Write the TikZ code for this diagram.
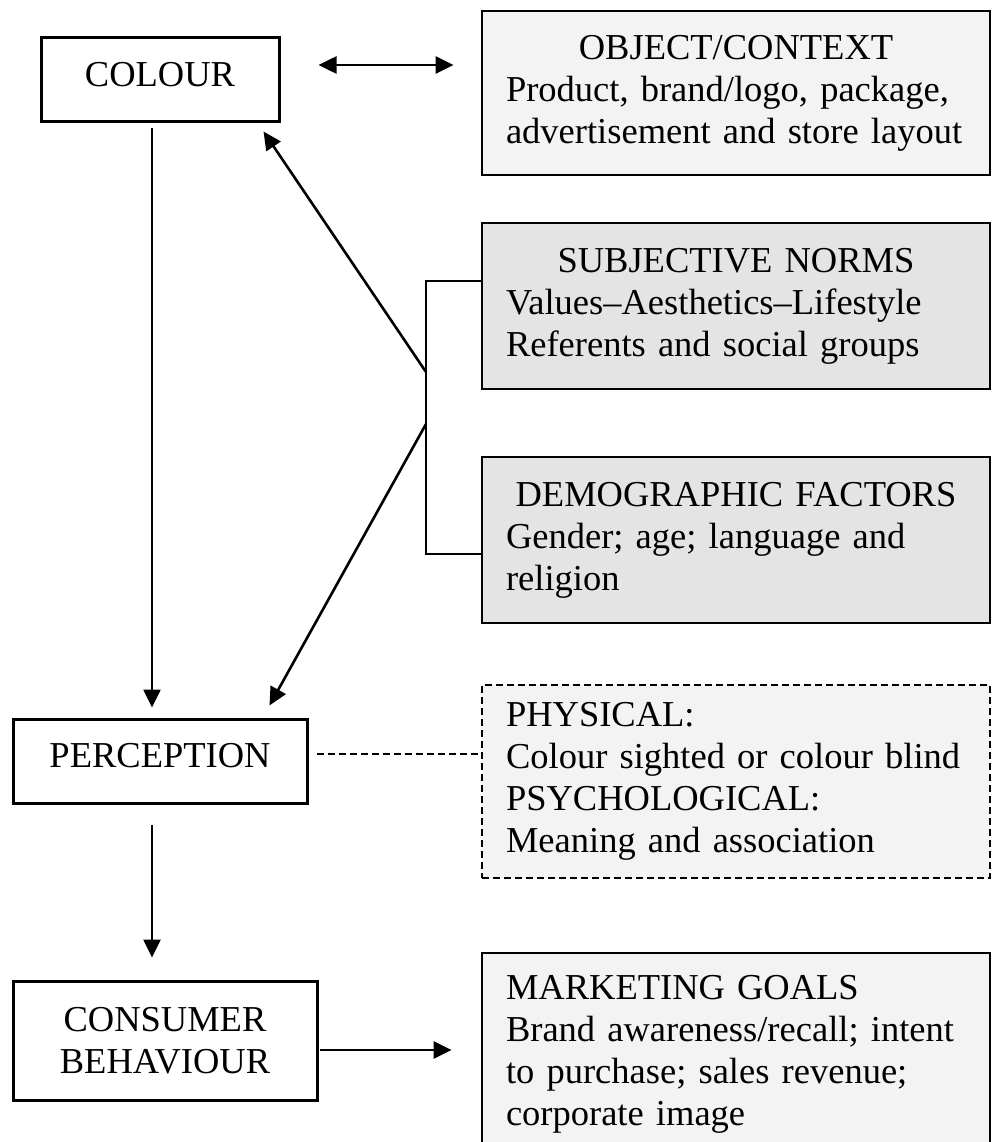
\documentclass[tikz,border=0pt]{standalone}
\usepackage{fontspec}
\setmainfont{Liberation Serif}
\usetikzlibrary{arrows.meta}
\definecolor{boxlight}{HTML}{F3F3F3}
\definecolor{boxmid}{HTML}{E4E4E4}
\newcommand{\boxhead}[1]{\makebox[460pt][c]{#1}}
\begin{document}
\begin{tikzpicture}[x=1pt,y=-1pt,
  every node/.style={font=\fontsize{36.5}{42}\selectfont},
  leftbox/.style={draw,line width=3pt,fill=white,align=center,inner sep=0pt,text depth=12pt},
  rightbox/.style={draw,line width=2.8pt,text width=460pt,align=left,inner xsep=24pt,inner ysep=0pt,minimum width=508pt},
  arr/.style={line width=2.6pt,-{Triangle[length=18pt,width=17pt]}},
  dbl/.style={line width=2.6pt,{Triangle[length=18pt,width=17pt]}-{Triangle[length=18pt,width=17pt]}},
  conn/.style={line width=2.6pt},
  dashconn/.style={line width=2.4pt,dash pattern=on 7pt off 4pt}
]
\useasboundingbox (0,0) rectangle (991,1142);
\clip (0,0) rectangle (991,1142);
\fill[white] (0,0) rectangle (991,1142);

% left column
\node[leftbox,minimum width=238pt,minimum height=84pt] (colour) at (160,80) {COLOUR};
\node[leftbox,minimum width=294pt,minimum height=84pt] (perception) at (160,761) {PERCEPTION};
\node[leftbox,minimum width=304pt,minimum height=119pt,text depth=0pt] (consumer) at (165,1040.5) {CONSUMER\\BEHAVIOUR};

% right column
\node[rightbox,fill=boxlight,minimum height=164pt] (object) at (736,93)
  {\boxhead{OBJECT/CONTEXT}\\Product, brand/logo, package,\\advertisement and store layout};
\node[rightbox,fill=boxmid,minimum height=166pt] (subj) at (736,306)
  {\boxhead{SUBJECTIVE NORMS}\\Values–Aesthetics–Lifestyle\\Referents and social groups};
\node[rightbox,fill=boxmid,minimum height=166pt] (demo) at (736,540)
  {\boxhead{DEMOGRAPHIC FACTORS}\\Gender; age; language and\\religion};
\node[rightbox,fill=boxlight,minimum height=193pt,line width=2.4pt,dash pattern=on 7pt off 4pt] (phys) at (736,781.5)
  {PHYSICAL:\\Colour sighted or colour blind\\PSYCHOLOGICAL:\\Meaning and association};
\node[rightbox,fill=boxlight,minimum height=202pt] (mkt) at (736,1054)
  {MARKETING GOALS\\Brand awareness/recall; intent\\to purchase; sales revenue;\\corporate image};

% connectors
\draw[dbl] ([shift={(38,-15)}]colour.east) -- ([shift={(-27,-28)}]object.west);
\draw[arr] ([shift={(-8,5)}]colour.south) -- ([shift={(-8,-10)}]perception.north);
\draw[arr] ([shift={(-8,20)}]perception.south) -- ([shift={(-13,-22)}]consumer.north);
\draw[arr] ([shift={(1,9.5)}]consumer.east) -- ([shift={(-29,-4)}]mkt.west);

% bracket
\coordinate (bb) at (426,554);
\coordinate (j1) at (426,372);
\coordinate (j2) at (426,424);
\draw[conn] ([shift={(0,-25)}]subj.west) -| (bb) -- (bb -| demo.west);
\draw[arr] (j1) -- ([shift={(-17,8)}]colour.south east);
\draw[arr] (j2) -- ([shift={(-39,-12)}]perception.north east);

% dashed link
\coordinate (d1) at ([shift={(8,-7)}]perception.east);
\draw[dashconn] (d1) -- (d1 -| phys.west);
\end{tikzpicture}
\end{document}
